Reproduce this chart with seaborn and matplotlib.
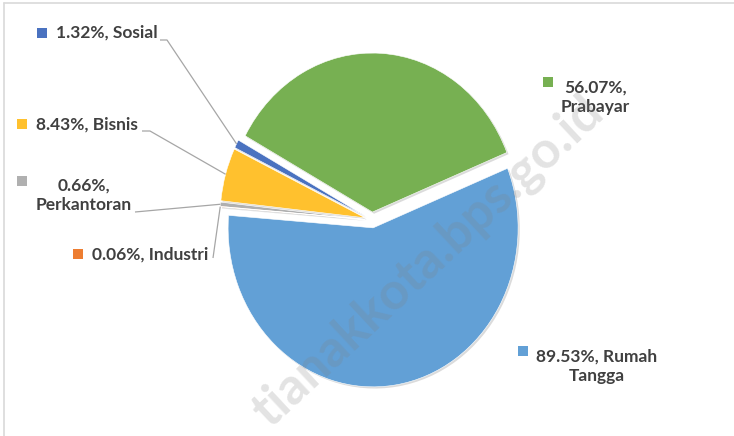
import numpy as np
import matplotlib
matplotlib.use("Agg")
import matplotlib.pyplot as plt
import matplotlib.patheffects as pe
from matplotlib.patches import Rectangle
import seaborn as sns

# ------------------------------------------
# data (percent shares as printed on the chart)
# ------------------------------------------
categories = ["Prabayar", "Sosial", "Bisnis", "Perkantoran", "Industri", "Rumah Tangga"]
shares = [56.07, 1.32, 8.43, 0.66, 0.06, 89.53]
slice_colors = ["#77B052", "#4A72C0", "#FFC12E", "#B0B0B0", "#ED7D31", "#62A0D6"]

sns.set_theme(style="white")
plt.rcParams["font.family"] = ["Lato", "DejaVu Sans"]

W, H = 734, 436
fig = plt.figure(figsize=(W / 100, H / 100), dpi=100)
ax = fig.add_axes([0, 0, 1, 1])

# pie centre / radii in pixels (the original is stretched vertically)
CX, CY, RX, RY = 372, 220, 145, 159


def P(x, y):
    return (x - CX) / RX, (CY - y) / RY


wedges, _ = ax.pie(shares, colors=slice_colors, startangle=22, counterclock=True,
                   explode=[0.05] * len(shares), radius=1.0,
                   wedgeprops={"linewidth": 0.4, "edgecolor": "white"})
for w in wedges:
    w.set_path_effects([pe.SimplePatchShadow(offset=(1.2, -1.2), shadow_rgbFace="#999999", alpha=0.35),
                        pe.Normal()])

ax.set_aspect("auto")
ax.set_xlim(-CX / RX, (W - CX) / RX)
ax.set_ylim((CY - H) / RY, CY / RY)
ax.axis("off")


def edge_point(w, r=1.0):
    mid = np.deg2rad((w.theta1 + w.theta2) / 2)
    cx, cy = w.center
    return cx + r * np.cos(mid), cy + r * np.sin(mid)


label_text = {
    "Prabayar": "56.07%,\nPrabayar",
    "Sosial": "1.32%, Sosial",
    "Bisnis": "8.43%, Bisnis",
    "Perkantoran": "0.66%,\nPerkantoran",
    "Industri": "0.06%, Industri",
    "Rumah Tangga": "89.53%, Rumah\nTangga",
}
label_text = {c: f"{v:.2f}%," + label_text[c].split(",", 1)[1] for c, v in zip(categories, shares)}

# text left x, centre y, marker left x, marker top y (pixels)
label_pos = {
    "Sosial": (56, 33, 37, 28),
    "Bisnis": (36, 125, 17, 119),
    "Perkantoran": (36, 195, 17, 176),
    "Industri": (92, 255, 73, 249),
    "Prabayar": (561, 97, 543, 77),
    "Rumah Tangga": (536, 366, 518, 346),
}

# leader lines: points in pixels before reaching the slice
leaders = {
    "Sosial": [(160, 40), (167, 40)],
    "Bisnis": [(142, 131), (150, 131)],
    "Perkantoran": [(135, 212)],
    "Industri": [(213, 258)],
}

for w, cat, col in zip(wedges, categories, slice_colors):
    tx, ty, mx, my = label_pos[cat]
    x0, y0 = P(tx, ty)
    ax.text(x0, y0, label_text[cat], ha="left", va="center", multialignment="center",
            fontsize=12.5, fontweight="bold", color="#404040", linespacing=1.25)
    rx0, ry0 = P(mx, my + 10)
    ax.add_patch(Rectangle((rx0, ry0), 10 / RX, 10 / RY, facecolor=col, edgecolor="none"))
    if cat in leaders:
        pts = [P(*p) for p in leaders[cat]] + [edge_point(w)]
        xs, ys = zip(*pts)
        ax.plot(xs, ys, color="#A6A6A6", linewidth=0.9, solid_capstyle="butt")

# watermark (the start of the site name runs off the bottom edge in the original)
wx, wy = P(606, 116)
ax.text(wx, wy, "tianakkota.bps.go.id", rotation=43, rotation_mode="anchor",
        ha="right", va="baseline", fontsize=37, fontweight="bold",
        color="#808080", alpha=0.22, zorder=10)

# chart frame (top and left edges visible)
fig.add_artist(plt.Line2D([4 / W, 1], [1 - 3 / H, 1 - 3 / H], color="#D9D9D9", linewidth=1.2))
fig.add_artist(plt.Line2D([4 / W, 4 / W], [0, 1 - 3 / H], color="#D9D9D9", linewidth=1.2))

fig.savefig("out.png", dpi=100)
